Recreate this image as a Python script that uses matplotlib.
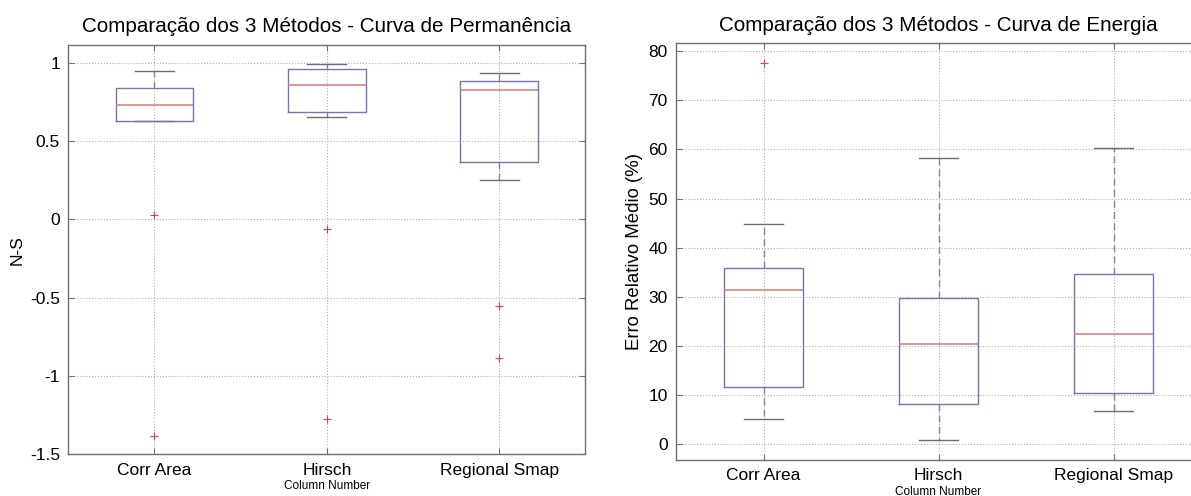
import matplotlib
matplotlib.use("Agg")
import matplotlib.pyplot as plt

plt.rcParams['font.family'] = ['Liberation Sans', 'DejaVu Sans']

# ----------------------
# Data
# ----------------------
metodos = ['Corr Area', 'Hirsch', 'Regional Smap']

# Curva de Permanencia (N-S)
perm_whislo = [0.626, 0.654, 0.248]
perm_q1 = [0.626, 0.684, 0.363]
perm_med = [0.73, 0.857, 0.825]
perm_q3 = [0.84, 0.957, 0.885]
perm_whishi = [0.95, 0.99, 0.934]
perm_fliers = [[0.03, -1.385], [-0.064, -1.276], [-0.553, -0.883]]

# Curva de Energia (erro relativo medio, %)
ener_whislo = [5.07, 0.81, 6.76]
ener_q1 = [11.7, 8.17, 10.47]
ener_med = [31.3, 20.47, 22.5]
ener_q3 = [35.95, 29.7, 34.6]
ener_whishi = [44.9, 58.3, 60.4]
ener_fliers = [[77.7], [], []]

box_col = '#7676aa'
med_col = '#d68484'
whis_col = '#84849e'
cap_col = '#6e6e6e'
flier_col = '#d04848'


def build_stats(lo, q1, med, q3, hi, fliers):
    stats = []
    for i in range(len(metodos)):
        stats.append(dict(whislo=lo[i], q1=q1[i], med=med[i], q3=q3[i],
                          whishi=hi[i], fliers=fliers[i], label=metodos[i]))
    return stats


def draw_panel(ax, stats, title, ylabel, ylim, yticks, ylabel_size):
    ax.bxp(stats, positions=[1, 2, 3], widths=0.45, capwidths=0.225,
           showfliers=True,
           boxprops=dict(color=box_col, linewidth=1.0, zorder=3),
           medianprops=dict(color=med_col, linewidth=1.2, zorder=3),
           whiskerprops=dict(color=whis_col, linewidth=1.0, linestyle=(0, (5, 3)), zorder=2),
           capprops=dict(color=cap_col, linewidth=1.0, zorder=2),
           flierprops=dict(marker='+', markeredgecolor=flier_col,
                           markersize=6, markeredgewidth=0.8, linestyle='none'))
    ax.set_xlim(0.5, 3.5)
    ax.set_ylim(*ylim)
    ax.set_yticks(yticks)
    ax.set_xticks([1, 2, 3])
    ax.set_xticklabels(metodos)
    ax.grid(True, linestyle=':', color='#b0b0b0', linewidth=0.8)
    ax.set_axisbelow(True)
    ax.tick_params(direction='in', length=4, color='#707070',
                   labelsize=12.5, top=True, right=True, pad=6)
    for s in ax.spines.values():
        s.set_color('#707070')
        s.set_linewidth(1.0)
    ax.set_title(title, fontsize=14.9, pad=9)
    ax.set_ylabel(ylabel, fontsize=ylabel_size)
    ax.set_xlabel('Column Number', fontsize=8.5, labelpad=2)


fig = plt.figure(figsize=(11.91, 4.96), dpi=100)

# ----------------------
# Left panel
# ----------------------
ax1 = fig.add_axes([0.0573, 0.0841, 0.4343, 0.8252])
draw_panel(ax1, build_stats(perm_whislo, perm_q1, perm_med, perm_q3, perm_whishi, perm_fliers),
           'Comparação dos 3 Métodos - Curva de Permanência', 'N-S',
           (-1.5, 1.113), [-1.5, -1, -0.5, 0, 0.5, 1], 12.5)
ax1.set_yticklabels(['-1.5', '-1', '-0.5', '0', '0.5', '1'])

# ----------------------
# Right panel (cropped at the right edge like the original)
# ----------------------
ax2 = fig.add_axes([0.5676, 0.0726, 0.4408, 0.840])
draw_panel(ax2, build_stats(ener_whislo, ener_q1, ener_med, ener_q3, ener_whishi, ener_fliers),
           'Comparação dos 3 Métodos - Curva de Energia', 'Erro Relativo Médio (%)',
           (-3.2, 81.6), [0, 10, 20, 30, 40, 50, 60, 70, 80], 13.4)

fig.savefig('out.png', dpi=100)
